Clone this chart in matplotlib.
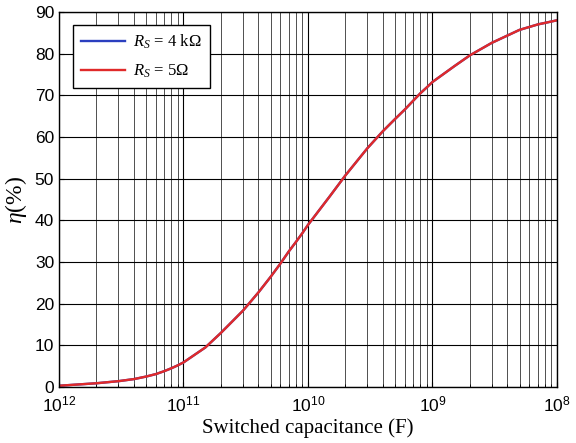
import matplotlib
matplotlib.use("Agg")
import matplotlib.pyplot as plt
from matplotlib.ticker import FixedLocator, LogLocator, NullFormatter

# Switched capacitance (F) and efficiency (%)
capacitance = [1e-12, 2e-12, 3e-12, 4e-12, 5e-12, 6e-12, 7e-12, 8e-12, 9e-12,
               1e-11, 1.5e-11, 2e-11, 3e-11, 4e-11, 5e-11, 6e-11, 7e-11, 8e-11, 9e-11,
               1e-10, 1.5e-10, 2e-10, 3e-10, 4e-10, 5e-10, 6e-10, 7e-10, 8e-10, 9e-10,
               1e-9, 1.5e-9, 2e-9, 3e-9, 5e-9, 7e-9, 1e-8]
eta_rs_4k = [0.3, 0.9, 1.4, 1.9, 2.5, 3.1, 3.8, 4.5, 5.2,
             5.9, 9.5, 13.0, 18.3, 22.7, 26.4, 29.6, 32.5, 34.8, 36.9,
             38.9, 45.8, 50.8, 57.3, 61.4, 64.3, 66.6, 68.7, 70.5, 71.9,
             73.2, 77.0, 79.6, 82.6, 85.7, 87.0, 88.0]
eta_rs_5 = list(eta_rs_4k)

x_ticks = [1e-12, 1e-11, 1e-10, 1e-9, 1e-8]
x_tick_labels = [r"$\mathsf{10^{12}}$", r"$\mathsf{10^{11}}$", r"$\mathsf{10^{10}}$",
                 r"$\mathsf{10^{9}}$", r"$\mathsf{10^{8}}$"]
y_ticks = list(range(0, 91, 10))

plt.rcParams["mathtext.fontset"] = "custom"
plt.rcParams["mathtext.rm"] = "Liberation Serif"
plt.rcParams["mathtext.it"] = "Liberation Serif:italic"
plt.rcParams["mathtext.sf"] = "Liberation Sans"

fig = plt.figure(figsize=(5.76, 4.43), dpi=100)
ax = fig.add_axes([0.1024, 0.1264, 0.8646, 0.8466])

ax.plot(capacitance, eta_rs_4k, color="#2b3fbf", lw=1.7, label=r"$R_S\,=\,4\ \mathrm{k\Omega}$")
ax.plot(capacitance, eta_rs_5, color="#e02a2a", lw=1.7, label=r"$R_S\,=\,5\mathrm{\Omega}$")

ax.set_xscale("log")
ax.set_xlim(1e-12, 1e-8)
ax.set_ylim(0, 90)
ax.xaxis.set_major_locator(FixedLocator(x_ticks))
ax.set_xticklabels(x_tick_labels)
ax.xaxis.set_minor_locator(LogLocator(base=10, subs=range(2, 10), numticks=20))
ax.xaxis.set_minor_formatter(NullFormatter())
ax.set_yticks(y_ticks)

ax.grid(True, which="major", color="black", lw=0.8)
ax.grid(True, which="minor", axis="x", color="#333333", lw=0.6)
ax.set_axisbelow(True)

ax.tick_params(axis="both", which="both", direction="in", labelsize=12.5, color="black")
ax.tick_params(axis="x", which="major", pad=6)
for lbl in ax.get_yticklabels():
    lbl.set_fontfamily("Liberation Sans")
for sp in ax.spines.values():
    sp.set_color("black")
    sp.set_linewidth(1.0)

ax.set_xlabel("Switched capacitance (F)", fontfamily="Liberation Serif", fontsize=15, labelpad=2)
ax.set_ylabel(r"$\eta(\%)$", fontsize=17, labelpad=4)

leg = ax.legend(loc="upper left", bbox_to_anchor=(0.028, 0.966), fontsize=12,
                fancybox=False, framealpha=1, edgecolor="black",
                handlelength=2.6, handletextpad=0.5, borderpad=0.5,
                labelspacing=0.6, borderaxespad=0)
leg.get_frame().set_linewidth(1.0)

fig.savefig("out.png", dpi=100)
